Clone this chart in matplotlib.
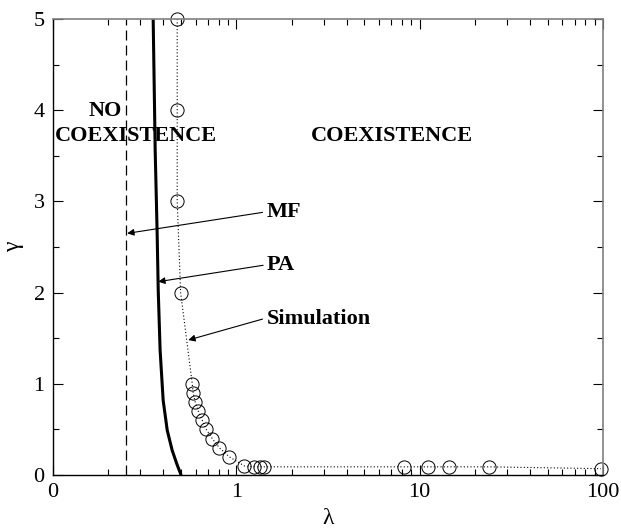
import matplotlib
matplotlib.use("Agg")
import matplotlib.pyplot as plt
import numpy as np
from matplotlib.ticker import FixedLocator, NullFormatter

plt.rcParams['font.family'] = ['Liberation Serif', 'DejaVu Serif']

# Mean-field threshold
mf_lambda = 0.25

# Pair-approximation boundary (lambda, gamma)
pa_lambda = [0.352, 0.361, 0.370, 0.375, 0.384, 0.399, 0.420, 0.447, 0.476, 0.500]
pa_gamma = [5.0, 3.56, 2.65, 2.03, 1.37, 0.82, 0.49, 0.27, 0.11, 0.0]

# Simulation results (lambda, gamma)
sim_lambda = [0.476, 0.476, 0.476, 0.497, 0.575, 0.582, 0.597, 0.620, 0.652, 0.686,
              0.739, 0.807, 0.916, 1.106, 1.254, 1.353, 1.422, 8.18, 11.06, 14.4,
              23.8, 97.5]
sim_gamma = [5.0, 4.0, 3.0, 2.0, 1.0, 0.9, 0.8, 0.7, 0.6, 0.5,
             0.4, 0.3, 0.2, 0.1, 0.09, 0.09, 0.09, 0.09, 0.09, 0.09,
             0.09, 0.07]

x_ticks = [0.1, 1, 10, 100]
x_ticklabels = ["0", "1", "10", "100"]
y_ticks = [0, 1, 2, 3, 4, 5]

fig = plt.figure(figsize=(6.21, 5.29), dpi=100)
ax = fig.add_axes([0.0853, 0.102, 0.8857, 0.862])

ax.axvline(mf_lambda, color='black', lw=0.9, ls=(0, (8, 4)))
ax.plot(pa_lambda, pa_gamma, color='black', lw=2.2, solid_capstyle='butt')
ax.plot(sim_lambda, sim_gamma, color='black', lw=0.8, ls=(0, (1, 2)),
        marker='o', ms=9.5, mfc='none', mec='black', mew=0.7, clip_on=False)

ax.set_xscale('log')
ax.set_xlim(0.1, 100)
ax.set_ylim(0, 5)
ax.xaxis.set_major_locator(FixedLocator(x_ticks))
ax.set_xticklabels(x_ticklabels)
minor = [m * d for d in (0.1, 1, 10) for m in range(2, 10)]
ax.xaxis.set_minor_locator(FixedLocator(minor))
ax.xaxis.set_minor_formatter(NullFormatter())
ax.set_yticks(y_ticks)
ax.yaxis.set_minor_locator(FixedLocator(np.arange(0.5, 5, 1.0)))

ax.tick_params(which='both', direction='in', top=True, right=True,
               labelsize=16, pad=6)
ax.tick_params(which='major', length=7, width=0.8)
ax.tick_params(which='minor', length=4, width=0.8)

for side in ('left', 'bottom'):
    ax.spines[side].set_linewidth(1.0)
for side in ('top', 'right'):
    ax.spines[side].set_color('#808080')
    ax.spines[side].set_linewidth(1.2)

ax.set_xlabel('λ', fontsize=17, labelpad=4)
ax.set_ylabel('γ', fontsize=17, labelpad=7, rotation=90)

bold = dict(fontweight='bold', fontsize=16, color='black')
ax.text(0.192, 3.99, "NO", ha='center', va='center', **bold)
ax.text(0.284, 3.72, "COEXISTENCE", ha='center', va='center', **bold)
ax.text(7.1, 3.72, "COEXISTENCE", ha='center', va='center', **bold)

lab = dict(fontweight='bold', fontsize=16, color='black', ha='left', va='center')
ax.text(1.47, 2.88, "MF", **lab)
ax.text(1.47, 2.30, "PA", **lab)
ax.text(1.47, 1.71, "Simulation", **lab)

arrow = dict(arrowstyle='-|>', color='black', lw=0.8, mutation_scale=10,
             shrinkA=0, shrinkB=0)
ax.annotate('', xy=(0.254, 2.65), xytext=(1.39, 2.88), arrowprops=arrow)
ax.annotate('', xy=(0.375, 2.12), xytext=(1.40, 2.30), arrowprops=arrow)
ax.annotate('', xy=(0.547, 1.48), xytext=(1.39, 1.71), arrowprops=arrow)

fig.savefig("out.png", dpi=100)
